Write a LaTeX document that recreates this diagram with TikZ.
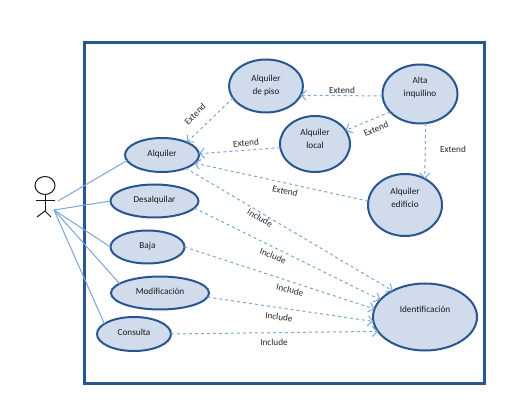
\documentclass[tikz,border=0pt]{standalone}
\usepackage{fontspec}
\setmainfont{Carlito}
\usetikzlibrary{shapes.geometric, arrows.meta, positioning}

\definecolor{marco}{HTML}{2A5690}
\definecolor{relleno}{HTML}{D0DBEC}
\definecolor{enlace}{HTML}{7AA6DC}

\begin{document}
\begin{tikzpicture}[
		x=1pt, y=-1pt,
		frontera/.style={draw=marco, line width=3pt},
		caso/.style={ellipse, draw=marco, fill=relleno, line width=2pt, inner sep=0pt, outer sep=0pt, align=center, font=\fontsize{9.2}{13}\selectfont, text=black!90},
		figura/.style={draw=black!90, line width=1pt},
		asociacion/.style={draw=enlace, line width=1pt},
		relacion/.style={-{Straight Barb[length=5pt, width=10pt]}, dashed, draw=enlace, line width=1pt},
		etiqueta/.style={font=\fontsize{9.2}{10}\selectfont, text=black!85, inner sep=0pt}
	]
	\useasboundingbox (0,0) rectangle (511,419);

	% 1. Marco del sistema
	\draw[frontera] (84,43) rectangle (484,383);

	% 2. Actor
	\draw[figura] (45,185.5) ellipse (10 and 9);
	\draw[figura] (45,194.5) -- (45,211);
	\draw[figura] (36,201) -- (55,201);
	\draw[figura] (37,217) -- (45,211) -- (51,217);
	\coordinate (actor_alto) at (58,201);
	\coordinate (actor_bajo) at (54,210);

	% 3. Casos de uso
	\node[caso, minimum width=74pt, minimum height=34pt, text depth=4pt] (alquiler) at (162,155) {Alquiler};
	\node[caso, minimum width=88pt, minimum height=33pt, text depth=4pt] (desalquilar) at (154.5,201) {Desalquilar};
	\node[caso, minimum width=74pt, minimum height=33pt, text depth=4pt] (baja) at (147.5,247) {Baja};
	\node[caso, minimum width=98pt, minimum height=33pt, text depth=4pt] (modificacion) at (160,293) {Modificación};
	\node[caso, minimum width=74pt, minimum height=34pt, text depth=4pt] (consulta) at (134,334) {Consulta};
	\node[caso, minimum width=74pt, minimum height=53pt] (piso) at (266,86) {Alquiler\\de piso};
	\node[caso, minimum width=75pt, minimum height=59pt, text depth=14pt] (alta) at (420,94) {Alta\\inquilino};
	\node[caso, minimum width=70pt, minimum height=56pt, text depth=10pt] (local) at (315,144) {Alquiler\\local};
	\node[caso, minimum width=74pt, minimum height=62pt, text depth=14pt] (edificio) at (405,205) {Alquiler\\edificio};
	\node[caso, minimum width=104pt, minimum height=67pt, text depth=16pt] (identificacion) at (425,317) {Identificación};

	% 4. Lineas del actor
	\draw[asociacion] (actor_alto) -- (alquiler.189);
	\draw[asociacion] (actor_bajo) -- (desalquilar.180);
	\draw[asociacion] (actor_bajo) -- (baja.180);
	\draw[asociacion] (actor_bajo) -- (modificacion.167);
	\draw[asociacion] (actor_bajo) -- (consulta.161);

	% 5. Relaciones Extend
	\draw[relacion] (piso.200) -- (alquiler.27);
	\draw[relacion] (alta.183) -- (piso.-15);
	\draw[relacion] (alta.211) -- (local.24);
	\draw[relacion] (alta.-79) -- (edificio.53);
	\draw[relacion] (local.186) -- (alquiler.2);
	\draw[relacion] (edificio.174) -- (alquiler.-14);

	% 6. Relaciones Include
	\draw[relacion] (alquiler.-29) -- (identificacion.141);
	\draw[relacion] (desalquilar.-10) -- (identificacion.159);
	\draw[relacion] (baja.0) -- (identificacion.171);
	\draw[relacion] (modificacion.-5) -- (identificacion.185);
	\draw[relacion] (consulta.0) -- (identificacion.197);

	% 7. Etiquetas
	\node[etiqueta, rotate=45] (ext_piso) at (195,114) {Extend};
	\node[etiqueta] (ext_alta_piso) at (342,90) {Extend};
	\node[etiqueta, rotate=22] (ext_alta_local) at (376,129) {Extend};
	\node[etiqueta] (ext_alta_edificio) at (453,149) {Extend};
	\node[etiqueta, rotate=5] (ext_local) at (246,143) {Extend};
	\node[etiqueta, rotate=-13] (ext_edificio) at (285,191) {Extend};
	\node[etiqueta, rotate=-30] (inc_alquiler) at (260,218) {Include};
	\node[etiqueta, rotate=-22] (inc_desalquilar) at (273,256) {Include};
	\node[etiqueta, rotate=-13] (inc_baja) at (290,290) {Include};
	\node[etiqueta, rotate=-7] (inc_modificacion) at (279,317) {Include};
	\node[etiqueta] (inc_consulta) at (274,342) {Include};

\end{tikzpicture}
\end{document}
